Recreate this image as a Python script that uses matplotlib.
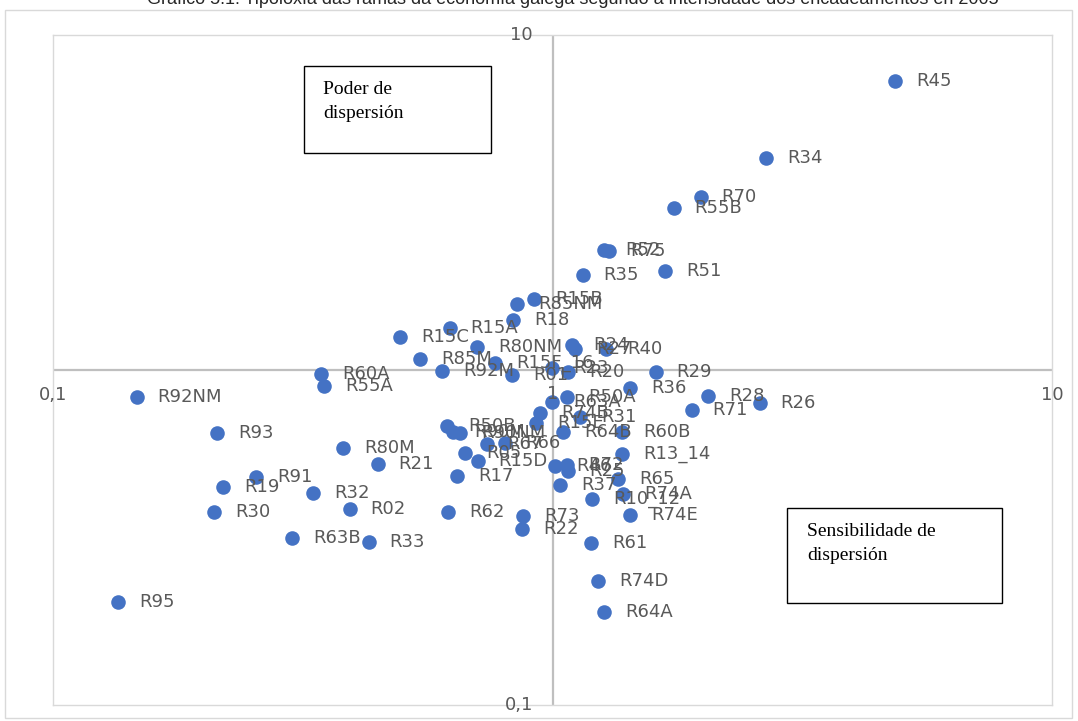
# Tipoloxía das ramas - gráfico de dispersión log-log
import numpy as np
import matplotlib.pyplot as plt
from matplotlib.patches import Rectangle

# datos (sensibilidade x, poder y)
ramas = ['R45', 'R34', 'R70', 'R55B', 'R52', 'R75', 'R51', 'R35', 'R15B', 'R85NM',
         'R18', 'R15A', 'R15C', 'R80NM', 'R24', 'R27', 'R40', 'R85M', 'R92M', 'R15F_16',
         'R01', 'R23', 'R20', 'R60A', 'R55A', 'R92NM', 'R29', 'R36', 'R28', 'R26',
         'R71', 'R50A', 'R63A', 'R74B', 'R31', 'R15E', 'R64B', 'R60B', 'R50B', 'R90M',
         'R90NM', 'R67', 'R66', 'R05', 'R15D', 'R17', 'R13_14', 'R46', 'R72', 'R25',
         'R37', 'R65', 'R74A', 'R10_12', 'R74E', 'R61', 'R74D', 'R64A', 'R73', 'R22',
         'R62', 'R93', 'R80M', 'R21', 'R91', 'R19', 'R32', 'R30', 'R02', 'R63B',
         'R33', 'R95']
sens = [4.85, 2.68, 1.98, 1.75, 1.27, 1.30, 1.68, 1.15, 0.918, 0.849,
        0.834, 0.623, 0.495, 0.706, 1.094, 1.109, 1.28, 0.543, 0.601, 0.767,
        0.83, 0.998, 1.074, 0.344, 0.349, 0.147, 1.61, 1.43, 2.05, 2.60,
        1.90, 1.069, 0.998, 0.944, 1.135, 0.927, 1.05, 1.378, 0.615, 0.632,
        0.653, 0.739, 0.803, 0.668, 0.709, 0.644, 1.378, 1.012, 1.069, 1.074,
        1.035, 1.352, 1.384, 1.20, 1.43, 1.194, 1.233, 1.27, 0.873, 0.869,
        0.618, 0.213, 0.381, 0.447, 0.255, 0.219, 0.332, 0.210, 0.393, 0.301,
        0.429, 0.135]
poder = [7.29, 4.29, 3.28, 3.04, 2.28, 2.27, 1.97, 1.92, 1.63, 1.57,
         1.41, 1.335, 1.254, 1.171, 1.188, 1.155, 1.155, 1.079, 0.995, 1.049,
         0.966, 1.014, 0.986, 0.973, 0.896, 0.831, 0.986, 0.884, 0.836, 0.797,
         0.76, 0.831, 0.802, 0.744, 0.724, 0.695, 0.653, 0.653, 0.681, 0.653,
         0.648, 0.601, 0.605, 0.565, 0.535, 0.483, 0.561, 0.517, 0.521, 0.499,
         0.454, 0.473, 0.426, 0.412, 0.369, 0.305, 0.2345, 0.1895, 0.3665, 0.335,
         0.377, 0.648, 0.585, 0.524, 0.479, 0.447, 0.4295, 0.377, 0.385, 0.315,
         0.307, 0.203]

titulo = 'Gráfico 5.1: Tipoloxía das ramas da economía galega segundo a intensidade dos encadeamentos en 2005'

W, H = 1078, 721
fig = plt.figure(figsize=(W/100, H/100), dpi=100)
ax = fig.add_axes([53/W, 1-705/H, 999/W, 670/H])

ax.set_xscale('log')
ax.set_yscale('log')
ax.set_xlim(0.1, 10)
ax.set_ylim(0.1, 10)

# eixos cruzando en 1
ax.axvline(1, color='#BFBFBF', lw=1.6, zorder=1)
ax.axhline(1, color='#BFBFBF', lw=1.6, zorder=1)
for s in ax.spines.values():
    s.set_color('#D9D9D9')
    s.set_linewidth(1)
ax.set_xticks([])
ax.set_yticks([])
ax.minorticks_off()

ax.scatter(sens, poder, s=110, color='#4472C4', zorder=3, linewidths=0)
for nome, x, y in zip(ramas, sens, poder):
    ax.annotate(nome, (x, y), xytext=(15, 0), textcoords='offset points',
                va='center', ha='left', fontsize=13, color='#595959', zorder=4)

# etiquetas dos eixos
gris = '#595959'
ax.annotate('0,1', (0.1, 1), xytext=(0, -18), textcoords='offset points', ha='center', va='center', fontsize=13, color=gris)
ax.annotate('10', (10, 1), xytext=(0, -18), textcoords='offset points', ha='center', va='center', fontsize=13, color=gris)
ax.annotate('1', (1, 1), xytext=(0, -17), textcoords='offset points', ha='center', va='center', fontsize=13, color=gris)
ax.annotate('10', (1, 10), xytext=(-14, 0), textcoords='offset points', ha='right', va='center', fontsize=13, color=gris)
ax.annotate('0,1', (1, 0.1), xytext=(-14, 0), textcoords='offset points', ha='right', va='center', fontsize=13, color=gris)

# borde exterior do gráfico
fig.patches.append(Rectangle((5/W, 3/H), 1067/W, 708/H, transform=fig.transFigure,
                             fill=False, edgecolor='#D9D9D9', lw=1))

# titulo (cortado na parte superior)
fig.text(573/W, 1 + 1/H, titulo, ha='center', va='center', fontsize=13,
         family='Liberation Sans', color='#262626')

# caixas de texto
fig.patches.append(Rectangle((304/W, 1-153/H), 187/W, 87/H, transform=fig.transFigure,
                             fill=True, facecolor='white', edgecolor='black', lw=1, zorder=5))
fig.text(323/W, 1-90/H, 'Poder de', family='Liberation Serif', fontsize=14, va='center', zorder=6)
fig.text(323/W, 1-114/H, 'dispersión', family='Liberation Serif', fontsize=14, va='center', zorder=6)

fig.patches.append(Rectangle((787/W, 1-603/H), 215/W, 95/H, transform=fig.transFigure,
                             fill=True, facecolor='white', edgecolor='black', lw=1, zorder=5))
fig.text(807/W, 1-531/H, 'Sensibilidade de', family='Liberation Serif', fontsize=14, va='center', zorder=6)
fig.text(807/W, 1-555/H, 'dispersión', family='Liberation Serif', fontsize=14, va='center', zorder=6)

fig.savefig('out.png', dpi=100)
